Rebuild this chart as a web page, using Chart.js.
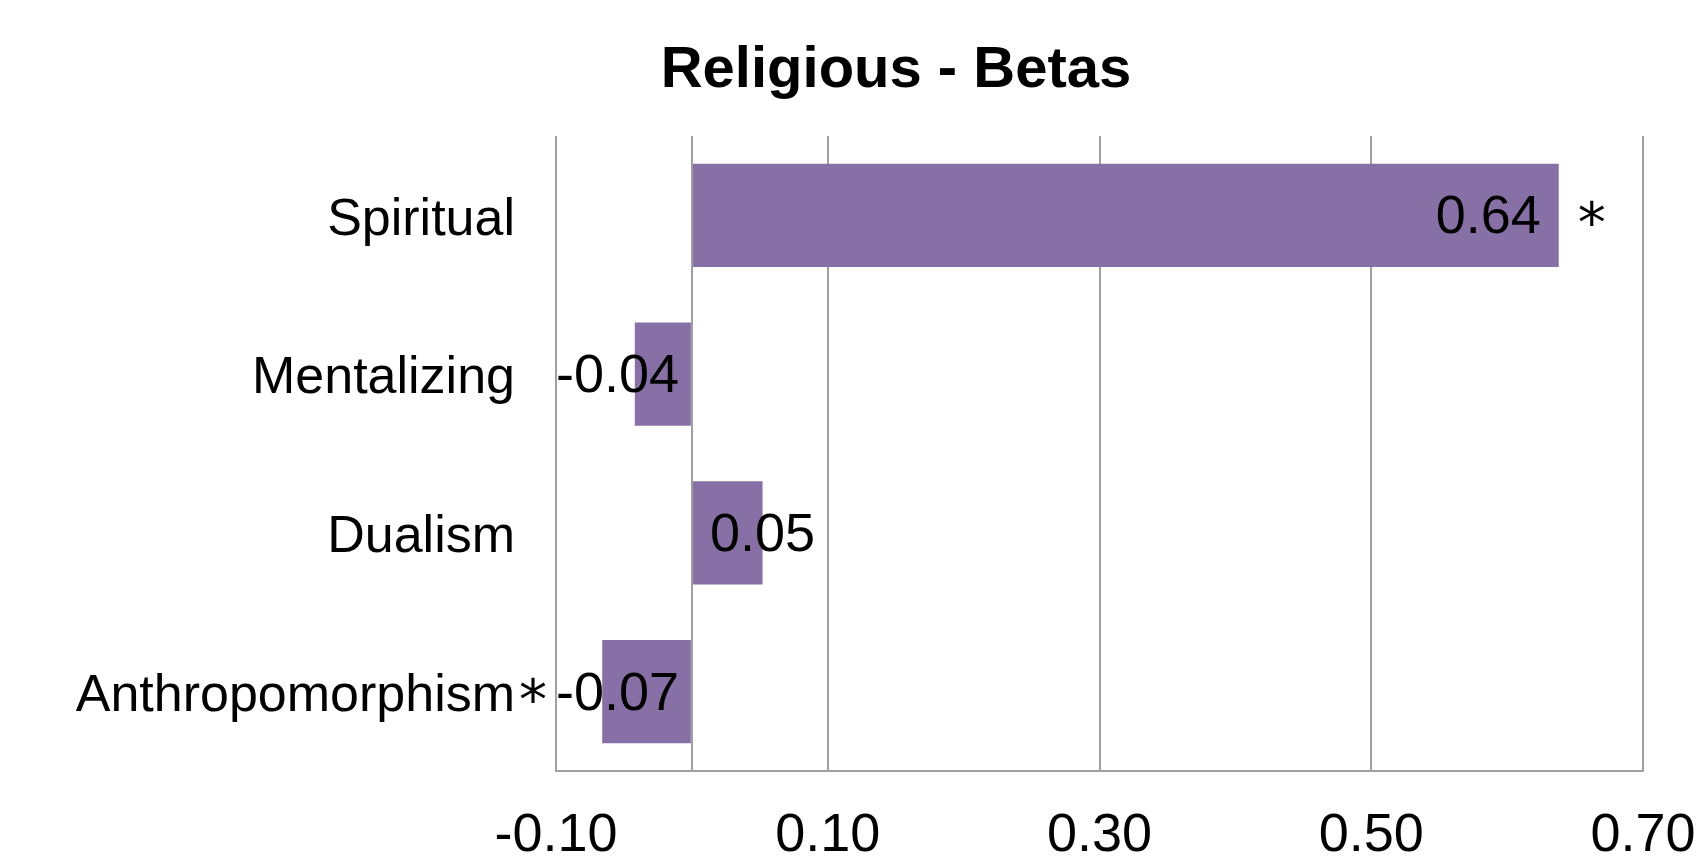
<!DOCTYPE html>
<html><head><meta charset="utf-8">
<script src="https://cdn.jsdelivr.net/npm/chart.js@4/dist/chart.umd.min.js"></script>
<style>html,body{margin:0;padding:0;background:#fff;overflow:hidden;}</style>
</head><body>
<canvas id="c" width="1697" height="866"></canvas>
<script>
const chartTitle = 'Religious - Betas';
const categories = ['Spiritual', 'Mentalizing', 'Dualism', 'Anthropomorphism'];
const betas = [0.638, -0.042, 0.052, -0.066];
const significance = ['*', '', '', '*'];
const xTickValues = [-0.1, 0, 0.1, 0.3, 0.5, 0.7];
const xMin = -0.1, xMax = 0.7;

const FONT = '"Liberation Sans", Arial, sans-serif';

const titlePlugin = {
  id: 'offsetTitle',
  afterDraw(chart) {
    const ctx = chart.ctx;
    ctx.save();
    ctx.font = 'bold 58px ' + FONT;
    ctx.fillStyle = '#000';
    ctx.textAlign = 'center';
    ctx.textBaseline = 'alphabetic';
    ctx.fillText(chartTitle, 896, 87);
    ctx.restore();
  }
};

const labelPlugin = {
  id: 'barLabels',
  afterDatasetsDraw(chart) {
    const ctx = chart.ctx;
    const meta = chart.getDatasetMeta(0);
    const xs = chart.scales.x;
    const area = chart.chartArea;
    const base = xs.getPixelForValue(0);
    ctx.save();
    meta.data.forEach((bar, i) => {
      const v = betas[i];
      const txt = v.toFixed(2);
      ctx.font = '54px ' + FONT;
      ctx.fillStyle = '#000';
      ctx.textBaseline = 'middle';
      ctx.textAlign = 'left';
      const w = ctx.measureText(txt).width;
      const pad = 18;
      let left;
      if (v >= 0) {
        const len = bar.x - base;
        left = (len >= w + 2 * pad) ? bar.x - pad - w : base + pad;
      } else {
        const len = base - bar.x;
        left = (len >= w + 2 * pad) ? bar.x + pad : base - pad - w;
        left = Math.max(left, area.left);
      }
      ctx.fillText(txt, left, bar.y + 3);
      if (significance[i]) {
        ctx.font = '56px "DejaVu Sans", sans-serif';
        ctx.textAlign = 'center';
        ctx.textBaseline = 'alphabetic';
        const m = ctx.measureText(significance[i]);
        const asc = m.actualBoundingBoxAscent, desc = m.actualBoundingBoxDescent;
        const ax = v >= 0 ? bar.x + 33 : area.left - 23;
        const cy = bar.y - 2;
        ctx.fillText(significance[i], ax, cy + (asc - desc) / 2);
      }
    });
    ctx.restore();
  }
};

new Chart(document.getElementById('c'), {
  type: 'bar',
  data: {
    labels: categories,
    datasets: [{
      data: betas,
      backgroundColor: '#8670a6',
      borderWidth: 0,
      barPercentage: 0.65,
      categoryPercentage: 1
    }]
  },
  options: {
    indexAxis: 'y',
    responsive: false,
    animation: false,
    devicePixelRatio: 1,
    layout: { padding: { left: 0, right: 54, top: 136, bottom: 0 } },
    plugins: {
      legend: { display: false },
      tooltip: { enabled: false },
      title: { display: false }
    },
    scales: {
      x: {
        type: 'linear',
        min: xMin,
        max: xMax,
        afterBuildTicks: s => { s.ticks = xTickValues.map(v => ({ value: v })); },
        grid: { color: '#a0a0a0', lineWidth: 2, drawTicks: false },
        border: { color: '#a0a0a0', width: 2 },
        ticks: {
          color: '#000',
          font: { family: FONT, size: 54 },
          padding: 33,
          maxRotation: 0,
          autoSkip: false,
          callback: v => (v === 0 ? '' : Number(v).toFixed(2))
        },
        afterFit: s => { s.height = 95; s.paddingLeft = 0; s.paddingRight = 0; }
      },
      y: {
        grid: { display: false, drawTicks: false },
        border: { display: false },
        ticks: { color: '#000', font: { family: FONT, size: 52 }, padding: 41, labelOffset: 5 },
        afterFit: s => { s.width = 556; s.paddingTop = 0; s.paddingBottom = 0; }
      }
    }
  },
  plugins: [labelPlugin, titlePlugin]
});
</script>
</body></html>
